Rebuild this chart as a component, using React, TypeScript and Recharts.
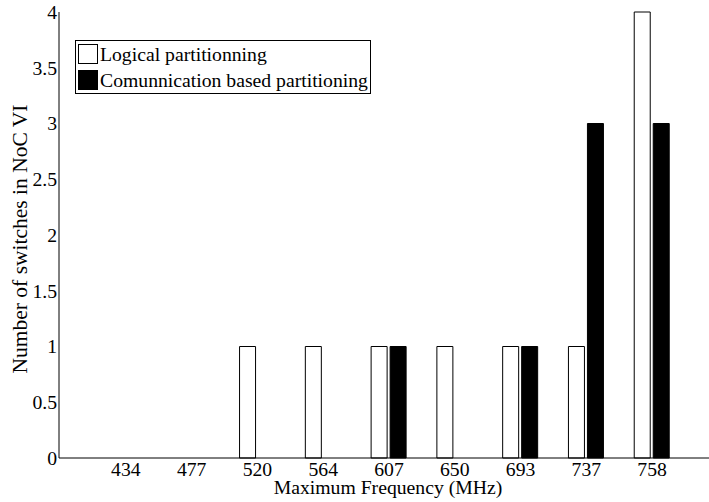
import React from 'react';
import { BarChart, Bar, XAxis, YAxis, Legend } from 'recharts';

const frequencies = ['434', '477', '520', '564', '607', '650', '693', '737', '758'];
const logicalPartitioning = [0, 0, 1, 1, 1, 1, 1, 1, 4];
const communicationPartitioning = [0, 0, 0, 0, 1, 0, 1, 3, 3];
const yTicks = [0, 0.5, 1, 1.5, 2, 2.5, 3, 3.5, 4];
const seriesNames = ['Logical partitionning', 'Comunnication based partitioning'];
const xTitle = 'Maximum Frequency (MHz)';
const yTitle = 'Number of switches in NoC VI';

const data = frequencies.map((f, i) => ({
  freq: f,
  logical: logicalPartitioning[i],
  communication: communicationPartitioning[i],
}));

const FONT = 'Liberation Serif, Times New Roman, Times, serif';
const FS = 19.7;
const PAD = { left: 34, right: 32 };

const XAxisTitle = (props: any) => {
  const vb = props.viewBox || { x: 59, y: 458, width: 658, height: 44 };
  return (
    <text x={vb.x + vb.width / 2} y={vb.y + 36} textAnchor="middle" fontFamily={FONT} fontSize={FS} fill="#000">
      {xTitle}
    </text>
  );
};

const YAxisTitle = (props: any) => {
  const vb = props.viewBox || { x: 0, y: 12, width: 59, height: 446 };
  const x = vb.x + 27;
  const y = vb.y + vb.height / 2 + 4;
  return (
    <text x={x} y={y} textAnchor="middle" fontFamily={FONT} fontSize={21.5} fill="#000" transform={`rotate(-90, ${x}, ${y})`}>
      {yTitle}
    </text>
  );
};

const renderLegend = (props: any) => {
  const payload = [...(props.payload || [])].sort(
    (a: any, b: any) => seriesNames.indexOf(a.value) - seriesNames.indexOf(b.value)
  );
  return (
    <div
      style={{
        border: '1px solid #000',
        background: '#fff',
        padding: '0 2px 0 2px',
        fontFamily: FONT,
        fontSize: FS,
        color: '#000',
        whiteSpace: 'nowrap',
      }}
    >
      {payload.map((entry: any, i: number) => (
        <div key={i} style={{ display: 'flex', alignItems: 'center', height: 26 }}>
          <span
            style={{
              display: 'inline-block',
              width: 20,
              height: 20,
              boxSizing: 'border-box',
              border: '1px solid #000',
              background: entry.color,
              marginRight: 2,
            }}
          />
          <span>{entry.value}</span>
        </div>
      ))}
    </div>
  );
};

export default function App() {
  const tickStyle = { fill: '#000', fontSize: FS, fontFamily: FONT };
  return (
    <div style={{ position: 'absolute', left: 0, top: 0, width: 709, height: 502, overflow: 'hidden', background: '#fff' }}>
      <BarChart
        width={720}
        height={502}
        data={data}
        margin={{ top: 12, right: 3, bottom: 0, left: 0 }}
        barSize={16}
        barGap={3}
      >
        <XAxis
          dataKey="freq"
          height={44}
          padding={PAD}
          interval={0}
          tickLine={false}
          tickSize={0}
          tickMargin={4}
          axisLine={{ stroke: '#000', strokeWidth: 1 }}
          tick={tickStyle}
          label={{ content: XAxisTitle }}
        />
        <XAxis
          xAxisId="bottomTicks"
          dataKey="freq"
          orientation="bottom"
          mirror
          height={0}
          padding={PAD}
          interval={0}
          tick={false}
          axisLine={false}
          tickSize={6}
          tickLine={{ stroke: '#000' }}
        />
        <XAxis
          xAxisId="topTicks"
          dataKey="freq"
          orientation="top"
          mirror
          height={0}
          padding={PAD}
          interval={0}
          tick={false}
          axisLine={{ stroke: '#000', strokeWidth: 1 }}
          tickSize={6}
          tickLine={{ stroke: '#000' }}
        />
        <YAxis
          width={59}
          domain={[0, 4]}
          ticks={yTicks}
          interval={0}
          tickLine={false}
          tickSize={0}
          tickMargin={2}
          axisLine={{ stroke: '#000', strokeWidth: 1 }}
          tick={tickStyle}
          label={{ content: YAxisTitle }}
        />
        <YAxis
          yAxisId="leftTicks"
          orientation="left"
          mirror
          width={0}
          domain={[0, 4]}
          ticks={yTicks}
          interval={0}
          tick={false}
          axisLine={false}
          tickSize={5}
          tickLine={{ stroke: '#000' }}
        />
        <Legend
          layout="vertical"
          align="center"
          verticalAlign="middle"
          wrapperStyle={{ left: 75, top: 40, width: 'auto', height: 'auto' }}
          content={renderLegend}
        />
        <Bar dataKey="logical" name={seriesNames[0]} fill="#fff" stroke="#000" strokeWidth={1} isAnimationActive={false} />
        <Bar dataKey="communication" name={seriesNames[1]} fill="#000" stroke="#000" strokeWidth={1} isAnimationActive={false} />
      </BarChart>
    </div>
  );
}
